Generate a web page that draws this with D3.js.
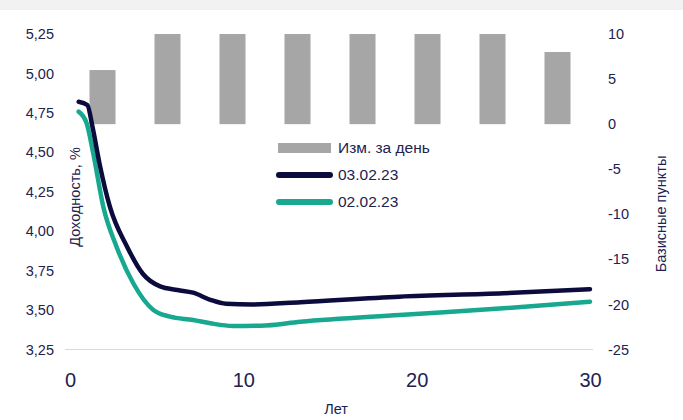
<!DOCTYPE html>
<html><head><meta charset="utf-8">
<script src="https://cdn.jsdelivr.net/npm/d3@7"></script>
<style>
html,body{margin:0;padding:0;background:#fff;}
svg{display:block;font-family:"Liberation Sans",Arial,sans-serif;}
</style></head>
<body>
<svg id="c" width="683" height="420"></svg>
<script>
// ---- data ----
const barCategories = ["1", "2", "3", "5", "7", "10", "20", "30"];
const barValues = [6, 10, 10, 10, 10, 10, 10, 8];

const years03 = [0.5, 1.0, 1.3, 1.7, 2.3, 3.3, 4.2, 5.2, 6.2, 7.1, 8.1, 9.0, 10.5, 13.3, 19, 25, 30];
const yield03 = [4.82, 4.80, 4.66, 4.43, 4.155, 3.90, 3.73, 3.65, 3.627, 3.61, 3.565, 3.54, 3.535, 3.55, 3.585, 3.606, 3.632];

const years02 = [0.5, 0.96, 1.34, 1.92, 2.69, 3.65, 4.81, 5.77, 7.1, 8.1, 9.4, 11, 13.3, 19, 25, 30];
const yield02 = [4.758, 4.684, 4.494, 4.155, 3.90, 3.67, 3.50, 3.458, 3.437, 3.416, 3.399, 3.401, 3.426, 3.469, 3.511, 3.553];

const leftTicks = [3.25, 3.5, 3.75, 4.0, 4.25, 4.5, 4.75, 5.0, 5.25];
const rightTicks = [-25, -20, -15, -10, -5, 0, 5, 10];
const xTicks = [0, 10, 20, 30];
const legendLabels = ["Изм. за день", "03.02.23", "02.02.23"];

// ---- layout ----
const svg = d3.select("#c");
const L = 70, R = 590, T = 34, B = 349.5;
const navy = "#0b0b3d", teal = "#17a88f", grey = "#a6a6a6", txt = "#22224f";

svg.append("rect").attr("x",0).attr("y",0).attr("width",683).attr("height",10).attr("fill","#f2f2f2");

const x = d3.scaleLinear().domain([0,30]).range([L,R]);
const yL = d3.scaleLinear().domain([3.25,5.25]).range([B,T]);
const yR = d3.scaleLinear().domain([-25,10]).range([B,T]);
const xb = d3.scaleBand().domain(barCategories).range([L,R]).paddingInner(0.6).paddingOuter(0.3);

// gridline at bottom
svg.append("line").attr("x1",65).attr("x2",593).attr("y1",B).attr("y2",B).attr("stroke","#d9d9d9").attr("stroke-width",1.2);

// bars
svg.append("g").selectAll("rect").data(barValues).join("rect")
  .attr("x",(d,i)=>xb(barCategories[i]))
  .attr("width",xb.bandwidth())
  .attr("y",d=>yR(Math.max(0,d)))
  .attr("height",d=>Math.abs(yR(d)-yR(0)))
  .attr("fill",grey);

// lines
const line = d3.line().x(d=>x(d[0])).y(d=>yL(d[1])).curve(d3.curveMonotoneX);
svg.append("path").datum(years02.map((t,i)=>[t,yield02[i]])).attr("d",line)
  .attr("fill","none").attr("stroke",teal).attr("stroke-width",4.5).attr("stroke-linecap","round");
svg.append("path").datum(years03.map((t,i)=>[t,yield03[i]])).attr("d",line)
  .attr("fill","none").attr("stroke",navy).attr("stroke-width",4.5).attr("stroke-linecap","round");

// axes
const fmt = d3.format(".2f");
const aL = d3.axisLeft(yL).tickValues(leftTicks).tickSize(0).tickPadding(0).tickFormat(d=>fmt(d).replace(".",","));
const gL = svg.append("g").attr("transform",`translate(54,0)`).call(aL);
const aR = d3.axisRight(yR).tickValues(rightTicks).tickSize(0).tickPadding(0).tickFormat(d=>String(d));
const gR = svg.append("g").attr("transform",`translate(608,0)`).call(aR);
const aX = d3.axisBottom(x).tickValues(xTicks).tickSize(0).tickPadding(0).tickFormat(d=>String(d));
const gX = svg.append("g").attr("transform",`translate(0,373)`).call(aX);
[gL,gR,gX].forEach(g=>{g.select(".domain").remove(); g.selectAll("text").attr("fill",txt).attr("font-family","Liberation Sans, Arial, sans-serif");});
gL.selectAll("text").attr("font-size",14.5);
gR.selectAll("text").attr("font-size",14.5);
gX.selectAll("text").attr("font-size",20);

// axis titles
svg.append("text").attr("transform","translate(80,197) rotate(-90)").attr("text-anchor","middle")
  .attr("font-size",14.5).attr("fill",txt).text("Доходность, %");
svg.append("text").attr("transform","translate(666,214) rotate(-90)").attr("text-anchor","middle")
  .attr("font-size",14.5).attr("fill",txt).text("Базисные пункты");
svg.append("text").attr("x",336).attr("y",414).attr("text-anchor","middle")
  .attr("font-size",14.5).attr("fill",txt).text("Лет");

// legend
const lg = svg.append("g");
lg.append("rect").attr("x",278).attr("y",143).attr("width",53).attr("height",10).attr("fill",grey);
lg.append("line").attr("x1",279).attr("x2",330).attr("y1",175).attr("y2",175).attr("stroke",navy).attr("stroke-width",6).attr("stroke-linecap","round");
lg.append("line").attr("x1",279).attr("x2",330).attr("y1",202).attr("y2",202).attr("stroke",teal).attr("stroke-width",6).attr("stroke-linecap","round");
[148,175,202].forEach((yy,i)=>{
  lg.append("text").attr("x",338).attr("y",yy).attr("dy","0.35em").attr("font-size",15.5).attr("fill",txt).text(legendLabels[i]);
});
</script>
</body></html>
